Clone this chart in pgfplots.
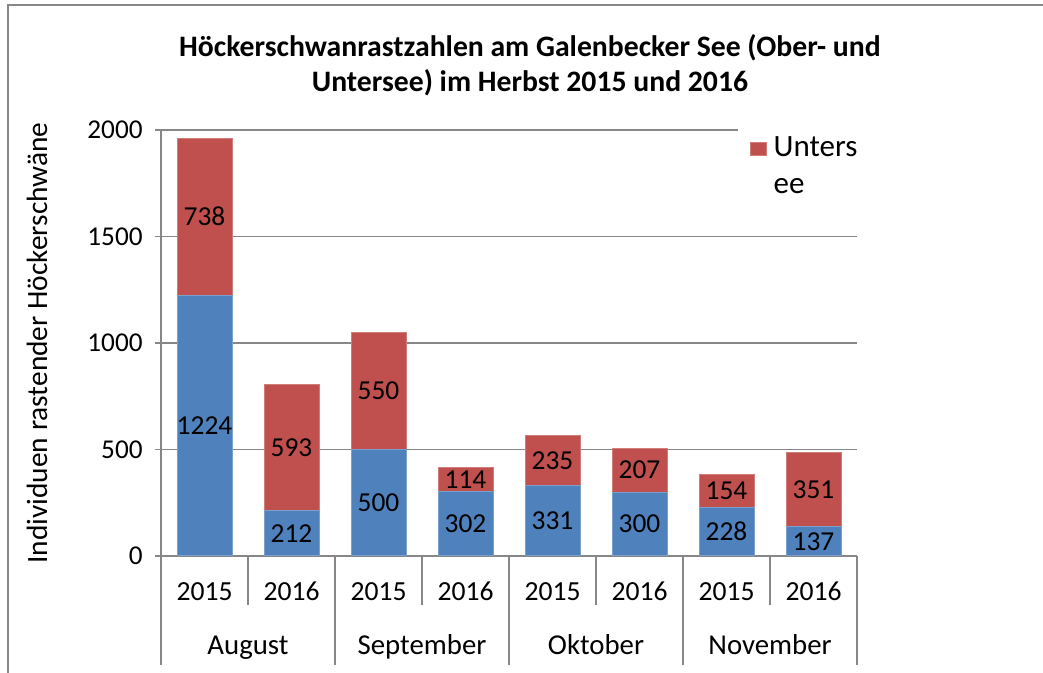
\documentclass[border=0pt]{standalone}
\usepackage{fontspec}
\setmainfont{Carlito}
\usepackage{pgfplots}
\pgfplotsset{compat=1.18}
\definecolor{ober}{HTML}{4F81BD}
\definecolor{unter}{HTML}{C0504D}
\definecolor{gridc}{HTML}{878787}
\begin{document}
\fontsize{13.5bp}{16bp}\selectfont
\begin{tikzpicture}
\path[use as bounding box] (0,0) rectangle (521.5bp,336.5bp);
\draw[gridc, line width=1bp] (4bp,0) -- (4bp,334bp) -- (521.5bp,334bp);
\node[font=\fontsize{14.85bp}{17bp}\selectfont\bfseries, anchor=base, inner sep=0pt] at (265bp,308.25bp) {Höckerschwanrastzahlen am Galenbecker See (Ober- und};
\node[font=\fontsize{14.85bp}{17bp}\selectfont\bfseries, anchor=base, inner sep=0pt] at (265bp,290.75bp) {Untersee) im Herbst 2015 und 2016};
\begin{axis}[
  at={(80.5bp,58.5bp)}, anchor=south west,
  scale only axis, width=348bp, height=213bp,
  xmin=-0.5, xmax=7.5, ymin=0, ymax=2000,
  ybar stacked, bar width=27.5bp,
  axis x line=bottom, axis y line=left,
  axis line style={gridc, line width=0.75bp, -},
  ytick={0,500,1000,1500,2000},
  ymajorgrids, grid style={gridc, line width=0.75bp},
  ytick style={gridc, line width=0.75bp},
  tick align=outside, major tick length=3bp,
  /pgf/number format/1000 sep={},
  /pgf/number format/assume math mode=true,
  scaled y ticks=false,
  yticklabel style={anchor=east, inner sep=0pt, xshift=-6bp, font=\fontsize{13.6bp}{16bp}\selectfont},
  xtick={0,...,7}, xticklabels={2015,2016,2015,2016,2015,2016,2015,2016},
  x tick style={draw=none},
  xticklabel style={anchor=base, inner sep=0pt, yshift=-19bp, font=\fontsize{13.8bp}{16bp}\selectfont},
  ylabel={Individuen rastender Höckerschwäne},
  ylabel style={at={(axis description cs:-0.178,0.5)}, anchor=center, font=\fontsize{14.7bp}{17bp}\selectfont},
  legend style={at={(axis description cs:0.828,1.01)}, anchor=north west,
    draw=none, fill=white, inner xsep=6bp, inner ysep=3bp,
    /tikz/every odd column/.append style={column sep=1.5bp},
    cells={anchor=west, align=left, font=\fontsize{15.5bp}{18.5bp}\selectfont}},
  legend image code/.code={\fill[#1] (0bp,5.75bp) rectangle (8bp,12.25bp);},
  clip=false,
]
\addplot[fill=ober, draw=ober!75!white, line width=0.5bp, forget plot] coordinates {
(0,1224) (1,212) (2,500) (3,302) (4,331) (5,300) (6,228) (7,137)};
\addplot[fill=unter, draw=unter!75!white, line width=0.5bp] coordinates {
(0,738) (1,593) (2,550) (3,114) (4,235) (5,207) (6,154) (7,351)};
\addlegendentry{Unters\\ee}
\pgfplotsinvokeforeach{-0.5,1.5,3.5,5.5,7.5}{
  \draw[gridc, line width=0.75bp] (axis cs:#1,0) -- ([yshift=-54.5bp]axis cs:#1,0);
}
\pgfplotsinvokeforeach{0.5,2.5,4.5,6.5}{
  \draw[gridc, line width=0.75bp] (axis cs:#1,0) -- ([yshift=-24.5bp]axis cs:#1,0);
}
\node[anchor=base, font=\fontsize{14.4bp}{17bp}\selectfont] at ([yshift=-49bp]axis cs:0.5,0) {August};
\node[anchor=base, font=\fontsize{14.4bp}{17bp}\selectfont] at ([yshift=-49bp]axis cs:2.5,0) {September};
\node[anchor=base, font=\fontsize{14.4bp}{17bp}\selectfont] at ([yshift=-49bp]axis cs:4.5,0) {Oktober};
\node[anchor=base, font=\fontsize{14.4bp}{17bp}\selectfont] at ([yshift=-49bp]axis cs:6.5,0) {November};
\end{axis}
\begin{axis}[
  at={(80.5bp,58.5bp)}, anchor=south west,
  scale only axis, width=348bp, height=213bp,
  xmin=-0.5, xmax=7.5, ymin=0, ymax=2000,
  hide axis, clip=false,
]
\addplot[only marks, mark=none, nodes near coords, point meta=explicit symbolic,
  every node near coord/.append style={anchor=center, inner sep=0pt, font=\fontsize{13.7bp}{16bp}\selectfont}]
  table[meta=label] {
x y label
0 612 1224
1 106 212
2 250 500
3 151 302
4 165.5 331
5 150 300
6 114 228
7 68.5 137
0 1593 738
1 508.5 593
2 775 550
3 359 114
4 448.5 235
5 403.5 207
6 305 154
7 312.5 351
};
\end{axis}
\end{tikzpicture}
\end{document}
